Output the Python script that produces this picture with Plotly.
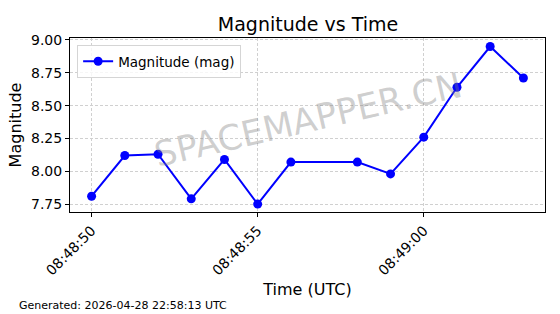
import plotly.graph_objects as go

times = ["2026-04-28 08:48:50", "2026-04-28 08:48:51", "2026-04-28 08:48:52",
         "2026-04-28 08:48:53", "2026-04-28 08:48:54", "2026-04-28 08:48:55",
         "2026-04-28 08:48:56", "2026-04-28 08:48:58", "2026-04-28 08:48:59",
         "2026-04-28 08:49:00", "2026-04-28 08:49:01", "2026-04-28 08:49:02",
         "2026-04-28 08:49:03"]
magnitude = [7.81, 8.12, 8.13, 7.79, 8.09, 7.75, 8.07, 8.07, 7.98, 8.26, 8.64, 8.95, 8.71]
x_ticks = ["2026-04-28 08:48:50", "2026-04-28 08:48:55", "2026-04-28 08:49:00"]
x_tick_labels = ["08:48:50", "08:48:55", "08:49:00"]
y_ticks = [7.75, 8.00, 8.25, 8.50, 8.75, 9.00]
y_tick_labels = ["7.75", "8.00", "8.25", "8.50", "8.75", "9.00"]

FONT = "DejaVu Sans"

fig = go.Figure()
fig.add_trace(go.Scatter(
    x=times, y=magnitude, mode="lines+markers", name="Magnitude (mag)",
    line=dict(color="#0000FF", width=2),
    marker=dict(color="#0000FF", size=9),
))

fig.update_layout(
    width=560, height=314,
    margin=dict(l=70, r=15, t=38, b=102),
    paper_bgcolor="white", plot_bgcolor="white",
    font=dict(family=FONT, color="black", size=14),
    title=dict(text="Magnitude vs Time", x=0.55, xanchor="center", y=1 - 24 / 314,
               yanchor="middle", font=dict(size=19, family=FONT)),
    showlegend=True,
    legend=dict(x=0.015, y=0.96, xanchor="left", yanchor="top",
                bgcolor="rgba(255,255,255,0.8)", bordercolor="#d5d5d5", borderwidth=1,
                font=dict(size=13.5, family=FONT)),
    xaxis=dict(
        type="date",
        range=["2026-04-28 08:48:49.35", "2026-04-28 08:49:03.65"],
        tickvals=x_ticks, ticktext=x_tick_labels, tickangle=-45,
        ticks="outside", ticklen=4, tickcolor="black",
        showline=True, linecolor="black", linewidth=1, mirror=True,
        showgrid=True, gridcolor="#d0d0d0", griddash="3px,2px", gridwidth=1,
        zeroline=False,
        tickfont=dict(size=14, family=FONT),
        title=dict(text="Time (UTC)", font=dict(size=16, family=FONT), standoff=6),
    ),
    yaxis=dict(
        range=[7.69, 9.015],
        tickvals=y_ticks, ticktext=y_tick_labels,
        ticks="outside", ticklen=4, tickcolor="black",
        showline=True, linecolor="black", linewidth=1, mirror=True,
        showgrid=True, gridcolor="#d0d0d0", griddash="3px,2px", gridwidth=1,
        zeroline=False,
        tickfont=dict(size=14, family=FONT),
        title=dict(text="Magnitude", font=dict(size=16, family=FONT), standoff=5),
    ),
)

fig.add_annotation(
    text="SPACEMAPPER.CN", xref="paper", yref="paper", x=0.5, y=0.53,
    showarrow=False, textangle=-13,
    font=dict(size=35, family=FONT, color="rgba(128,128,128,0.38)"),
)
fig.add_annotation(
    text="Generated: 2026-04-28 22:58:13 UTC", xref="paper", yref="paper",
    x=(17 - 70) / 475, y=(212 - 305) / 174, xanchor="left", yanchor="middle",
    showarrow=False, font=dict(size=11, family=FONT, color="black"),
)

fig.write_html("out.html")
